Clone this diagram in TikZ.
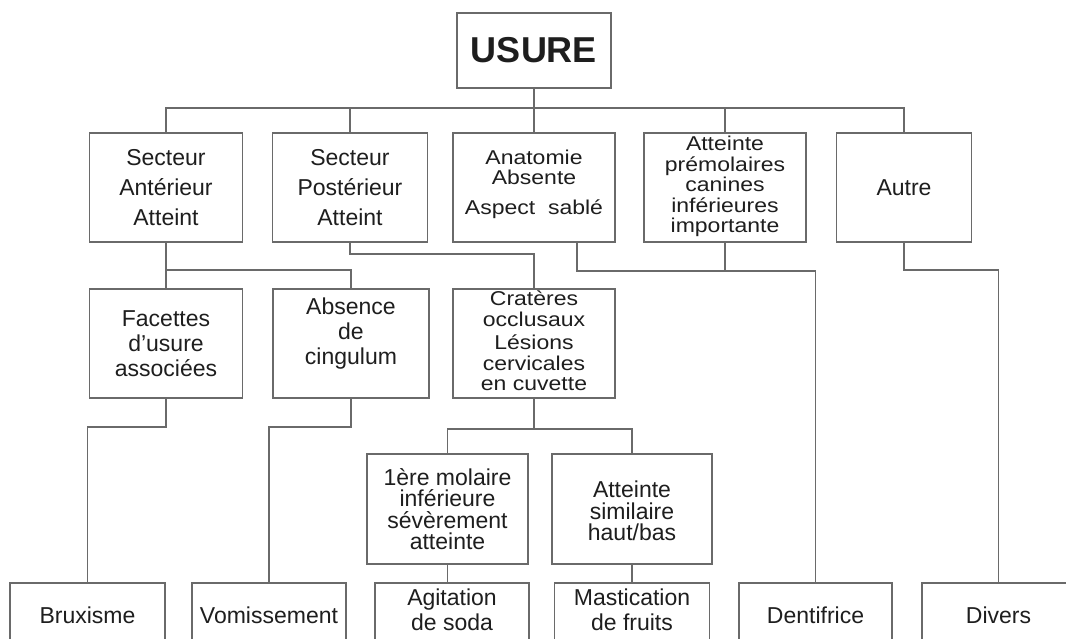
\documentclass[tikz,border=0pt]{standalone}
\usepackage{graphicx}
\usepackage{fontspec}
\setmainfont{Liberation Sans}
\definecolor{ln}{HTML}{6A6A6A}
\definecolor{tx}{HTML}{1E1E1E}
\newcommand\fnt[1]{\fontsize{23}{#1}\selectfont}
\newcommand\dense[1]{\scalebox{1.15}[1]{\fontsize{20}{20}\selectfont\begin{tabular}{@{}c@{}}#1\end{tabular}}}
\begin{document}
\begin{tikzpicture}[x=1pt,y=-1pt,
  box/.style={draw=ln, line width=1.8pt, fill=white, inner sep=0pt, align=center, text=tx},
  conn/.style={draw=ln, line width=1.8pt, line join=miter},
  lbl/.style={align=center, text=tx, inner sep=0pt}]
\useasboundingbox (0,0) rectangle (1066,638);
\fill[white] (0,0) rectangle (1066,638);

% top
\node[box, minimum width=154, minimum height=75, font=\bfseries\fontsize{36}{40}\selectfont] (usure) at (534,50.5) {USURE};

% row 1
\node[box, minimum width=153, minimum height=109, font=\fnt{30}] (sec1) at (166,187.5) {Secteur\\Antérieur\\Atteint};
\node[box, minimum width=155, minimum height=109, font=\fnt{30}] (sec2) at (350,187.5) {Secteur\\Postérieur\\Atteint};
\node[box, minimum width=162, minimum height=109,
  label={[lbl, yshift=2.5pt]center:\dense{Anatomie\\Absente\\[9pt]Aspect\ \ sablé}}] (anat) at (534,187.5) {};
\node[box, minimum width=162, minimum height=109] (prem) at (725,187.5) {\dense{Atteinte\\prémolaires\\canines\\inférieures\\importante}};
\node[box, minimum width=135, minimum height=109, font=\fnt{25}] (autre) at (904,187.5) {Autre};

% row 2
\node[box, minimum width=153, minimum height=109, font=\fnt{25}] (fac) at (166,343.5) {Facettes\\d'usure\\associées};
\node[box, minimum width=156, minimum height=109,
  label={[lbl, font=\fnt{25}, yshift=9.5pt]center:Absence\\de\\cingulum}] (abs) at (351,343.5) {};
\node[box, minimum width=162, minimum height=109] (crat) at (534,343.5) {\dense{Cratères\\occlusaux\\[3pt]Lésions\\cervicales\\en cuvette}};

% row 3
\node[box, minimum width=161, minimum height=110, font=\fnt{21.5}] (mol) at (447.5,509) {1ère molaire\\inférieure\\sévèrement\\atteinte};
\node[box, minimum width=160, minimum height=110,
  label={[lbl, font=\fnt{21.5}, yshift=-2pt]center:Atteinte\\similaire\\haut/bas}] (sim) at (632,509) {};

% row 4
\node[box, minimum width=155, minimum height=64, font=\fnt{25}] (brux) at (87.5,615) {Bruxisme};
\node[box, minimum width=154, minimum height=64, font=\fnt{25}] (vom) at (269,615) {Vomissement};
\node[box, minimum width=154, minimum height=64,
  label={[lbl, font=\fnt{25}, yshift=5.5pt]center:Agitation\\de soda}] (agit) at (452,615) {};
\node[box, minimum width=155, minimum height=64,
  label={[lbl, font=\fnt{25}, yshift=5.5pt]center:Mastication\\de fruits}] (mast) at (632,615) {};
\node[box, minimum width=153, minimum height=64, font=\fnt{25}] (dent) at (815.5,615) {Dentifrice};
\node[box, minimum width=153, minimum height=64, font=\fnt{25}] (div) at (998.5,615) {Divers};

% connectors
\draw[conn] (usure.south) -- ++(0,19) -| (sec1.north);
\draw[conn] (usure.south) -- ++(0,19) -| (sec2.north);
\draw[conn] (usure.south) -- (anat.north);
\draw[conn] (usure.south) -- ++(0,19) -| (prem.north);
\draw[conn] (usure.south) -- ++(0,19) -| (autre.north);

\draw[conn] (sec1.south) -- (fac.north);
\draw[conn] (sec1.south) -- ++(0,27) -| (abs.north);
\draw[conn] (sec2.south) -- ++(0,11) -| (crat.north);
\draw[conn] ([xshift=43pt]anat.south) -- ++(0,28) -| (dent.north);
\draw[conn] (prem.south) -- ++(0,28);
\draw[conn] (autre.south) -- ++(0,27) -| (div.north);

\draw[conn] (fac.south) -- ++(0,28) -| (brux.north);
\draw[conn] (abs.south) -- ++(0,28) -| (vom.north);
\draw[conn] (crat.south) -- ++(0,30) -| (mol.north);
\draw[conn] (crat.south) -- ++(0,30) -| (sim.north);
\draw[conn] (mol.south) -- (mol.south |- agit.north);
\draw[conn] (sim.south) -- (mast.north);
\end{tikzpicture}
\end{document}
